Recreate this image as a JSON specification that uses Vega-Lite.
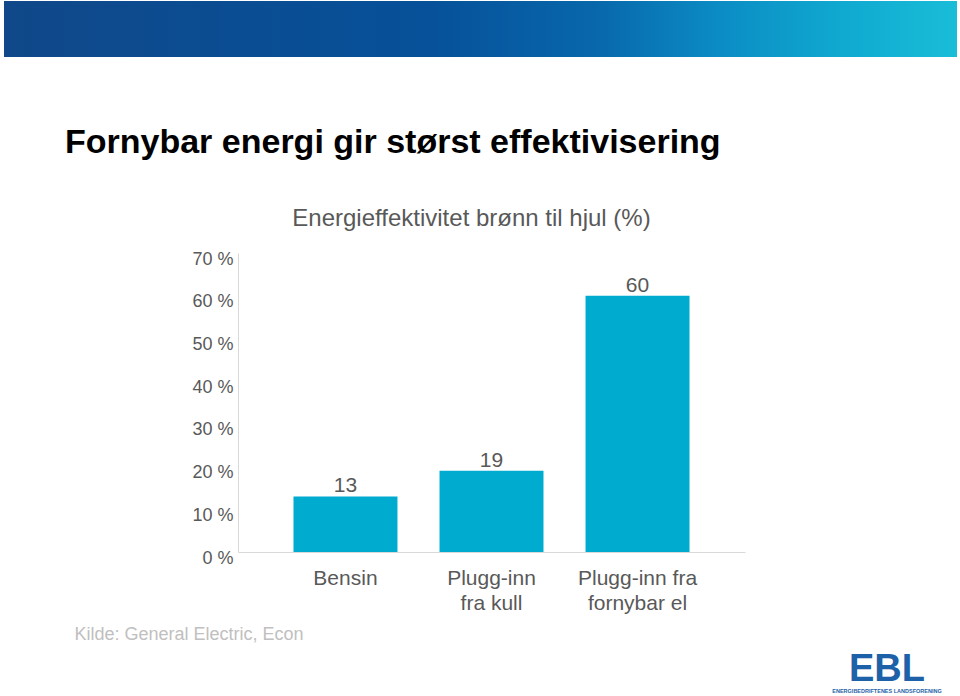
{
  "$schema": "https://vega.github.io/schema/vega-lite/v6.json",
  "width": 507,
  "height": 299,
  "autosize": {"type": "none"},
  "padding": {"left": 238, "top": 253, "right": 215, "bottom": 144},
  "background": "white",
  "config": {"font": "Liberation Sans", "view": {"stroke": null}},
  "title": {
    "text": "Fornybar energi gir størst effektivisering",
    "anchor": "start",
    "frame": "group",
    "fontSize": 34,
    "fontWeight": "bold",
    "color": "#000000",
    "baseline": "alphabetic",
    "offset": 0,
    "dx": -173,
    "dy": 186
  },
  "layer": [
    {
      "data": {"values": [{"banner": 1}]},
      "mark": {
        "type": "rect",
        "x": -234,
        "x2": 719,
        "y": -252,
        "y2": -196,
        "fill": {
          "gradient": "linear",
          "x1": 0, "y1": 0, "x2": 1, "y2": 0,
          "stops": [
            {"offset": 0, "color": "#104889"},
            {"offset": 0.45, "color": "#06519a"},
            {"offset": 0.62, "color": "#0867aa"},
            {"offset": 0.75, "color": "#0b8cc4"},
            {"offset": 0.88, "color": "#10a9d0"},
            {"offset": 1, "color": "#19bdd8"}
          ]
        }
      },
      "encoding": {}
    },
    {
      "data": {
        "values": [
          {"kategori": "Bensin", "verdi": 13},
          {"kategori": "Plugg-inn fra kull", "verdi": 19},
          {"kategori": "Plugg-inn fra fornybar el", "verdi": 60}
        ]
      },
      "encoding": {
        "x": {
          "field": "kategori",
          "type": "nominal",
          "sort": null,
          "scale": {"paddingInner": 0.288, "paddingOuter": 0.38},
          "axis": {
            "title": "Kilde: General Electric, Econ",
            "titleX": -164,
            "titleY": 82,
            "titleAlign": "left",
            "titleBaseline": "middle",
            "titleFontSize": 18,
            "titleFontWeight": "normal",
            "titleColor": "#c0c0c0",
            "labelAngle": 0,
            "labelExpr": "datum.value == 'Bensin' ? 'Bensin' : datum.value == 'Plugg-inn fra kull' ? ['Plugg-inn', 'fra kull'] : ['Plugg-inn fra', 'fornybar el']",
            "labelFontSize": 21,
            "labelColor": "#595959",
            "labelPadding": 15,
            "labelBaseline": "top",
            "labelLineHeight": 25,
            "labelLimit": 0,
            "ticks": false,
            "grid": false,
            "domainColor": "#d9d9d9"
          }
        },
        "y": {
          "field": "verdi",
          "type": "quantitative",
          "scale": {"domain": [0, 70], "nice": false},
          "axis": {
            "title": "Energieffektivitet brønn til hjul (%)",
            "titleAngle": 0,
            "titleX": 233,
            "titleY": -28,
            "titleAlign": "center",
            "titleBaseline": "alphabetic",
            "titleFontSize": 24,
            "titleFontWeight": "normal",
            "titleColor": "#595959",
            "values": [0, 10, 20, 30, 40, 50, 60, 70],
            "labelExpr": "datum.value + ' %'",
            "labelFontSize": 18,
            "labelColor": "#595959",
            "labelPadding": 5,
            "labelOffset": 6,
            "labelBaseline": "middle",
            "labelFlush": false,
            "labelOverlap": false,
            "ticks": false,
            "grid": false,
            "domainColor": "#d9d9d9"
          }
        }
      },
      "layer": [
        {"mark": {"type": "bar", "color": "#00abd0"}},
        {
          "mark": {"type": "text", "baseline": "alphabetic", "dy": -4, "fontSize": 21, "color": "#595959"},
          "encoding": {"text": {"field": "verdi", "type": "quantitative"}}
        }
      ]
    },
    {
      "data": {"values": [{"logo": "EBL"}]},
      "mark": {"type": "text", "x": 649, "y": 428, "align": "center", "baseline": "alphabetic", "fontSize": 38, "fontWeight": "bold", "color": "#1d62a8", "text": "EBL"},
      "encoding": {}
    },
    {
      "data": {"values": [{"logo": "sub"}]},
      "mark": {"type": "text", "x": 649, "y": 440, "align": "center", "baseline": "alphabetic", "fontSize": 5.5, "fontWeight": "bold", "color": "#1d62a8", "text": "ENERGIBEDRIFTENES LANDSFORENING"},
      "encoding": {}
    }
  ]
}
